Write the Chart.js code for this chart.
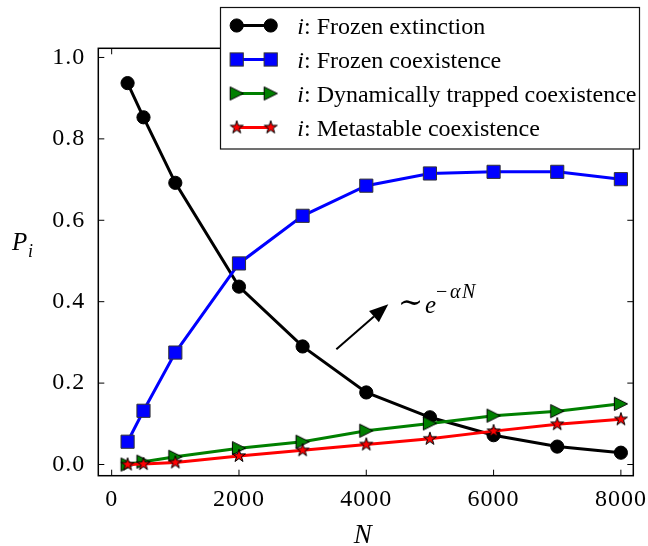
<!DOCTYPE html>
<html><head><meta charset="utf-8">
<script src="https://cdn.jsdelivr.net/npm/chart.js@4.4.1/dist/chart.umd.min.js"></script>
<style>html,body{margin:0;padding:0;background:#fff;overflow:hidden}canvas{display:block}</style>
</head><body>
<canvas id="c" width="648" height="546"></canvas>
<script>
// ---- data ----
const N = [250, 500, 1000, 2000, 3000, 4000, 5000, 6000, 7000, 8000];
const frozenExtinction = [0.937, 0.853, 0.692, 0.437, 0.290, 0.177, 0.116, 0.072, 0.044, 0.029];
const frozenCoexistence = [0.056, 0.132, 0.275, 0.494, 0.611, 0.685, 0.715, 0.719, 0.719, 0.701];
const trappedCoexistence = [0.000, 0.007, 0.019, 0.040, 0.056, 0.083, 0.101, 0.120, 0.131, 0.149];
const metastableCoexistence = [0.000, 0.001, 0.005, 0.021, 0.035, 0.049, 0.063, 0.082, 0.099, 0.111];
const seriesNames = ['Frozen extinction', 'Frozen coexistence', 'Dynamically trapped coexistence', 'Metastable coexistence'];
const xTicks = [0, 2000, 4000, 6000, 8000];
const yTicks = [0.0, 0.2, 0.4, 0.6, 0.8, 1.0];
const xRange = [-210, 8195];
const yRange = [-0.0275, 1.0225];
const arrowFrom = [3530, 0.283];
const arrowTo = [4346, 0.394];
const annotationAt = [4514, 0.372];

const SERIF = "'Liberation Serif', 'Times New Roman', serif";
const BLACK = '#000000', BLUE = '#0000ff', GREEN = '#008000', RED = '#ff0000';

function makeMarker(kind, fill) {
  const s = 20, c = document.createElement('canvas');
  c.width = s; c.height = s;
  const g = c.getContext('2d');
  g.translate(s / 2, s / 2);
  g.beginPath();
  if (kind === 'tri') {
    const h = 6.6;
    g.moveTo(h, 0); g.lineTo(-h, -h); g.lineTo(-h, h); g.closePath();
  } else {
    const R = 6.8, r = R * 0.381966;
    for (let k = 0; k < 10; k++) {
      const a = -Math.PI / 2 + k * Math.PI / 5, rr = k % 2 ? r : R;
      g.lineTo(rr * Math.cos(a), rr * Math.sin(a));
    }
    g.closePath();
  }
  g.fillStyle = fill; g.fill();
  g.lineWidth = 1; g.strokeStyle = '#000'; g.lineJoin = 'miter'; g.stroke();
  return c;
}
const triMarker = makeMarker('tri', GREEN);
const starMarker = makeMarker('star', RED);

const pts = arr => N.map((x, i) => ({ x: x, y: arr[i] }));

const datasets = [
  { label: seriesNames[0], data: pts(frozenExtinction), borderColor: BLACK, borderWidth: 3,
    pointStyle: 'circle', pointRadius: 6.6, pointBackgroundColor: BLACK, pointBorderColor: BLACK, pointBorderWidth: 1, order: 3 },
  { label: seriesNames[1], data: pts(frozenCoexistence), borderColor: BLUE, borderWidth: 3,
    pointStyle: 'rect', pointRadius: 9.3, pointBackgroundColor: BLUE, pointBorderColor: '#333', pointBorderWidth: 1, order: 2 },
  { label: seriesNames[2], data: pts(trappedCoexistence), borderColor: GREEN, borderWidth: 3,
    pointStyle: triMarker, pointRadius: 7, order: 1 },
  { label: seriesNames[3], data: pts(metastableCoexistence), borderColor: RED, borderWidth: 3,
    pointStyle: starMarker, pointRadius: 7, order: 0 }
];
datasets.forEach(d => { d.tension = 0; d.fill = false; d.clip = false; });

const decor = {
  id: 'decor',
  beforeDraw(chart) { chart.ctx.letterSpacing = '1px'; },
  beforeDatasetsDraw(chart) { chart.ctx.letterSpacing = '0px'; },
  afterDraw(chart) {
    const ctx = chart.ctx, a = chart.chartArea, xs = chart.scales.x, ys = chart.scales.y;
    ctx.save();
    ctx.letterSpacing = '0px';
    // frame
    ctx.strokeStyle = '#000'; ctx.lineWidth = 1.5;
    ctx.strokeRect(a.left, a.top, a.right - a.left, a.bottom - a.top);
    // inward ticks on all sides
    ctx.lineWidth = 1;
    ctx.beginPath();
    xTicks.forEach(v => {
      const p = xs.getPixelForValue(v);
      ctx.moveTo(p, a.bottom); ctx.lineTo(p, a.bottom - 6);
      ctx.moveTo(p, a.top); ctx.lineTo(p, a.top + 6);
    });
    yTicks.forEach(v => {
      const p = ys.getPixelForValue(v);
      ctx.moveTo(a.left, p); ctx.lineTo(a.left + 6, p);
      ctx.moveTo(a.right, p); ctx.lineTo(a.right - 6, p);
    });
    ctx.stroke();

    // axis titles
    ctx.fillStyle = '#000';
    ctx.textBaseline = 'alphabetic';
    ctx.textAlign = 'center';
    ctx.font = 'italic 27px ' + SERIF;
    ctx.fillText('N', (a.left + a.right) / 2 - 3, 543);
    ctx.textAlign = 'left';
    ctx.font = 'italic 25px ' + SERIF;
    ctx.fillText('P', 12, 250);
    ctx.font = 'italic 18px ' + SERIF;
    ctx.fillText('i', 28, 257);

    // annotation arrow
    const x0 = xs.getPixelForValue(arrowFrom[0]), y0 = ys.getPixelForValue(arrowFrom[1]);
    const x1 = xs.getPixelForValue(arrowTo[0]), y1 = ys.getPixelForValue(arrowTo[1]);
    const ang = Math.atan2(y1 - y0, x1 - x0), hl = 19, hw = 7.5;
    const bx = x1 - hl * Math.cos(ang), by = y1 - hl * Math.sin(ang);
    ctx.strokeStyle = '#000'; ctx.lineWidth = 2;
    ctx.beginPath(); ctx.moveTo(x0, y0); ctx.lineTo(bx, by); ctx.stroke();
    ctx.beginPath();
    ctx.moveTo(x1, y1);
    ctx.lineTo(bx + hw * Math.sin(ang), by - hw * Math.cos(ang));
    ctx.lineTo(bx - hw * Math.sin(ang), by + hw * Math.cos(ang));
    ctx.closePath(); ctx.fillStyle = '#000'; ctx.fill();

    // annotation text  ~ e^{-aN}
    const tx = xs.getPixelForValue(annotationAt[0]);
    const tb = ys.getPixelForValue(annotationAt[1]);
    ctx.font = "30px 'DejaVu Serif', " + SERIF;
    ctx.fillText('\u223C', tx - 1, tb - 1);
    ctx.font = 'italic 25px ' + SERIF;
    ctx.fillText('e', tx + 26, tb);
    ctx.font = '20px ' + SERIF;
    ctx.fillText('\u2212', tx + 37, tb - 15);
    ctx.font = 'italic 20px ' + SERIF;
    ctx.fillText('\u03B1', tx + 51, tb - 15);
    ctx.fillText('N', tx + 63, tb - 15);

    // legend
    const L = { x: 220.5, y: 7.5, w: 419, h: 141.5 };
    ctx.fillStyle = '#fff';
    ctx.fillRect(L.x, L.y, L.w, L.h);
    ctx.strokeStyle = '#111'; ctx.lineWidth = 1.2;
    ctx.strokeRect(L.x, L.y, L.w, L.h);
    const mx0 = 236.7, mx1 = 270.7, textX = 297.3;
    datasets.forEach((d, i) => {
      const cy = 25.5 + 34 * i;
      ctx.strokeStyle = d.borderColor; ctx.lineWidth = 3;
      ctx.beginPath(); ctx.moveTo(mx0, cy); ctx.lineTo(mx1, cy); ctx.stroke();
      [mx0, mx1].forEach(mx => {
        if (i === 0) {
          ctx.beginPath(); ctx.arc(mx, cy, 6.6, 0, Math.PI * 2);
          ctx.fillStyle = BLACK; ctx.fill(); ctx.lineWidth = 1; ctx.strokeStyle = BLACK; ctx.stroke();
        } else if (i === 1) {
          ctx.fillStyle = BLUE; ctx.fillRect(mx - 6.6, cy - 6.6, 13.2, 13.2);
          ctx.lineWidth = 1; ctx.strokeStyle = '#333'; ctx.strokeRect(mx - 6.6, cy - 6.6, 13.2, 13.2);
        } else {
          const m = i === 2 ? triMarker : starMarker;
          ctx.drawImage(m, mx - m.width / 2, cy - m.height / 2);
        }
      });
      ctx.fillStyle = '#000';
      ctx.font = 'italic 24px ' + SERIF;
      ctx.fillText('i', textX, cy + 8);
      const w = ctx.measureText('i').width;
      ctx.font = '24px ' + SERIF;
      ctx.fillText(': ' + d.label, textX + w, cy + 8);
    });
    ctx.restore();
  }
};

new Chart(document.getElementById('c'), {
  type: 'line',
  data: { datasets: datasets },
  options: {
    responsive: false,
    animation: false,
    devicePixelRatio: 1,
    layout: { padding: { top: 48.3, right: 648 - 633.3, bottom: 0, left: 0 } },
    plugins: { legend: { display: false }, tooltip: { enabled: false }, title: { display: false } },
    scales: {
      x: {
        type: 'linear', min: xRange[0], max: xRange[1],
        afterBuildTicks: s => { s.ticks = xTicks.map(v => ({ value: v })); },
        afterFit: s => { s.height = 546 - 475.7; s.paddingLeft = 0; s.paddingRight = 0; },
        grid: { display: false, drawTicks: false },
        border: { display: false },
        ticks: { color: '#000', font: { family: SERIF, size: 24, lineHeight: 1 }, padding: 12.3,
                 maxRotation: 0, autoSkip: false, callback: v => String(v) }
      },
      y: {
        type: 'linear', min: yRange[0], max: yRange[1],
        afterBuildTicks: s => { s.ticks = yTicks.map(v => ({ value: v })); },
        afterFit: s => { s.width = 98.3; s.paddingTop = 0; s.paddingBottom = 0; },
        grid: { display: false, drawTicks: false },
        border: { display: false },
        ticks: { color: '#000', font: { family: SERIF, size: 24, lineHeight: 1 }, padding: 13,
                 autoSkip: false, callback: v => v.toFixed(1) }
      }
    }
  },
  plugins: [decor]
});
</script>
</body></html>
